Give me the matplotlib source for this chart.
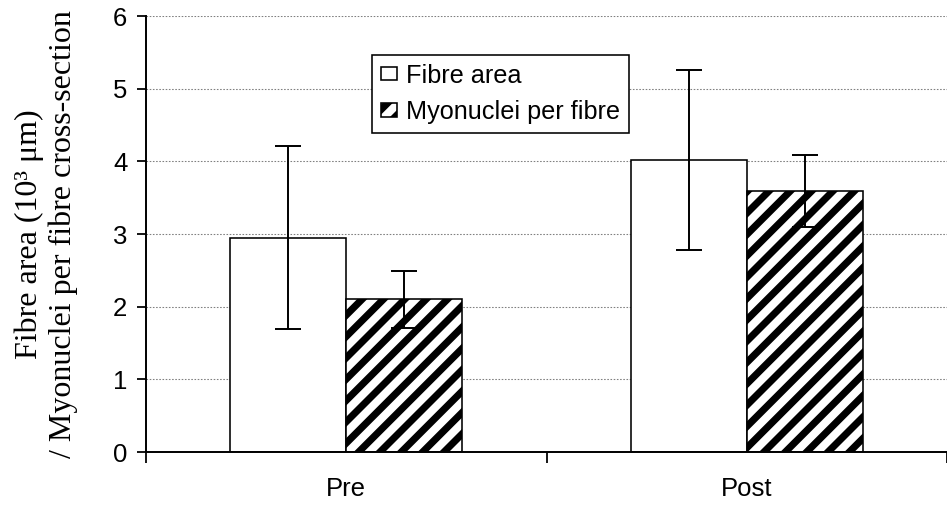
import matplotlib
matplotlib.use('Agg')
import matplotlib.pyplot as plt
import numpy as np

plt.rcParams['font.family'] = ['Liberation Sans', 'DejaVu Sans']
plt.rcParams['hatch.linewidth'] = 4.0
plt.rcParams['hatch.color'] = 'black'

# Group means and standard deviations
groups = ['Pre', 'Post']
series_labels = ['Fibre area', 'Myonuclei per fibre']
fibre_area = [2.95, 4.02]
fibre_area_err = [1.26, 1.24]
myonuclei = [2.10, 3.59]
myonuclei_err = [0.39, 0.50]

DPI = 128
fig = plt.figure(figsize=(947 / DPI, 506 / DPI), dpi=DPI)
ax = fig.add_axes([146 / 947, 54 / 506, 801 / 947, 436 / 506])

x = np.arange(len(groups)) + 0.5
width = 0.29
bar_kw = dict(width=width, color='white', edgecolor='black', linewidth=0.9, zorder=2)
err_kw = dict(fmt='none', ecolor='black', elinewidth=1.1, capsize=7.5, capthick=1.1, zorder=3)

ax.bar(x - width / 2, fibre_area, label=series_labels[0], **bar_kw)
ax.bar(x + width / 2, myonuclei, hatch='//', label=series_labels[1], **bar_kw)
ax.errorbar(x - width / 2, fibre_area, yerr=fibre_area_err, **err_kw)
ax.errorbar(x + width / 2, myonuclei, yerr=myonuclei_err, **err_kw)

ax.set_xlim(0, 2)
ax.set_ylim(0, 6)
ax.set_yticks(range(7))

# category boundaries get the tick marks, labels sit between them
ax.set_xticks([0, 1, 2])
ax.set_xticklabels([])
ax.set_xticks(x, minor=True)
ax.set_xticklabels(groups, minor=True)
ax.tick_params(axis='x', which='major', length=6, width=1, direction='out')
ax.tick_params(axis='x', which='minor', length=0, pad=14, labelsize=14.5)
ax.tick_params(axis='y', length=5, width=1, direction='out', pad=5.5, labelsize=14.5)

for side in ['top', 'right']:
    ax.spines[side].set_visible(False)
for side in ['left', 'bottom']:
    ax.spines[side].set_linewidth(1.1)

ax.yaxis.grid(True, color='#808080', linestyle=(0, (1.5, 1.5)), linewidth=0.6)
ax.set_axisbelow(True)

leg = ax.legend(loc='upper left', bbox_to_anchor=(0.282, 0.911), frameon=True,
                fancybox=False, shadow=False, edgecolor='black', framealpha=1,
                fontsize=14.2, handlelength=0.65, handleheight=0.45, handletextpad=0.35,
                borderpad=0.35, labelspacing=0.5, borderaxespad=0)
leg.get_frame().set_linewidth(0.9)

fig.text(46 / 947, 1 - 234 / 506,
         'Fibre area (10\u00b3 \u03bcm)\n/ Myonuclei per fibre cross-section',
         rotation=90, ha='center', va='center', multialignment='center',
         family=['Liberation Serif', 'DejaVu Serif'], fontsize=18)

fig.savefig('out.png', dpi=DPI)
